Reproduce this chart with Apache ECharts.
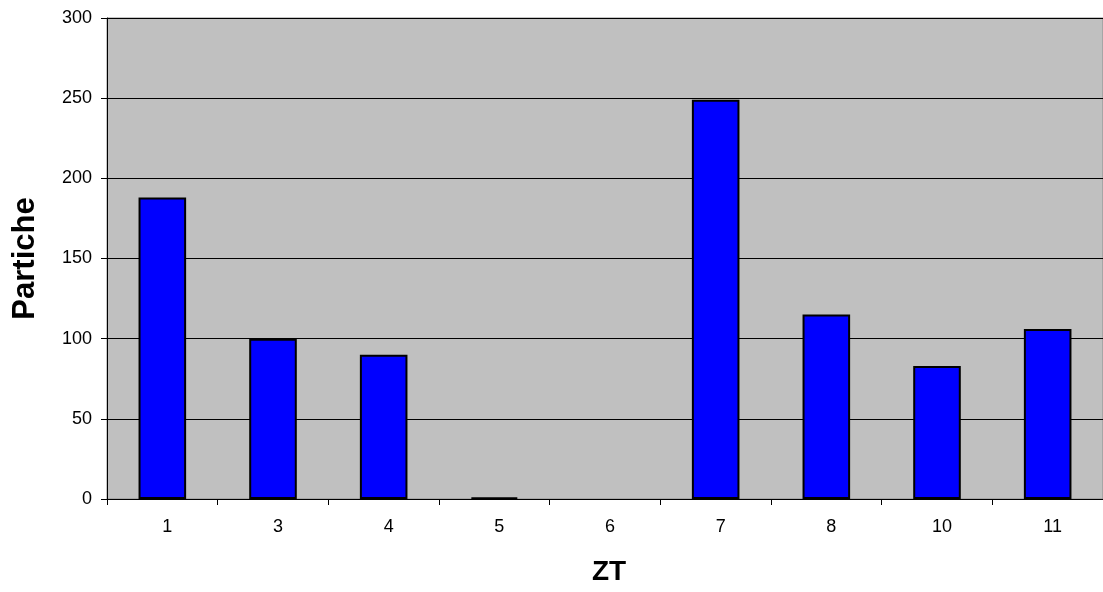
<!DOCTYPE html>
<html>
<head>
<meta charset="utf-8">
<script src="https://cdn.jsdelivr.net/npm/echarts@6/dist/echarts.min.js"></script>
<style>
html,body{margin:0;padding:0;background:#fff;}
#c{width:1103px;height:592px;}
</style>
</head>
<body>
<div id="c"></div>
<script>
const categories = ['1','3','4','5','6','7','8','10','11'];
const particheValues = [188, 100, 90, 1, 0, 249, 115, 83, 106];
const yTicks = [0, 50, 100, 150, 200, 250, 300];
const xTitle = 'ZT';
const yTitle = 'Partiche';

const chart = echarts.init(document.getElementById('c'), null, {renderer:'canvas'});
chart.setOption({
  animation: false,
  backgroundColor: '#ffffff',
  grid: {
    left: 107, right: 0, top: 18, bottom: 93,
    show: true, backgroundColor: '#c0c0c0', borderColor: '#8c8c8c', borderWidth: 1
  },
  xAxis: {
    type: 'category',
    data: categories,
    name: xTitle,
    nameLocation: 'middle',
    nameGap: 59,
    nameTextStyle: {fontFamily: 'Liberation Sans', fontWeight: 'bold', fontSize: 28, color: '#000', padding: [0, 0, 0, 8]},
    axisLine: {lineStyle: {color: '#000', width: 1}},
    axisTick: {show: true, length: 6, lineStyle: {color: '#000'}},
    axisLabel: {fontFamily: 'Liberation Sans', fontSize: 18, color: '#000', margin: 19, padding: [0, 0, 0, 10]},
    splitLine: {show: false}
  },
  yAxis: {
    type: 'value',
    min: yTicks[0], max: yTicks[yTicks.length-1], interval: 50,
    name: yTitle,
    nameLocation: 'middle',
    nameGap: 66,
    nameTextStyle: {fontFamily: 'Liberation Sans', fontWeight: 'bold', fontSize: 31, color: '#000'},
    axisLine: {show: true, lineStyle: {color: '#000', width: 1}},
    axisTick: {show: true, length: 6, lineStyle: {color: '#000'}},
    axisLabel: {fontFamily: 'Liberation Sans', fontSize: 18, color: '#000', margin: 15},
    splitLine: {show: true, lineStyle: {color: '#000', width: 1}}
  },
  series: [{
    type: 'bar',
    data: particheValues.map(v => ({value: v, itemStyle: v === 0 ? {borderWidth: 0} : {}})),
    barCategoryGap: '57%',
    itemStyle: {color: '#0000ff', borderColor: '#000', borderWidth: 2}
  }]
});
</script>
</body>
</html>
